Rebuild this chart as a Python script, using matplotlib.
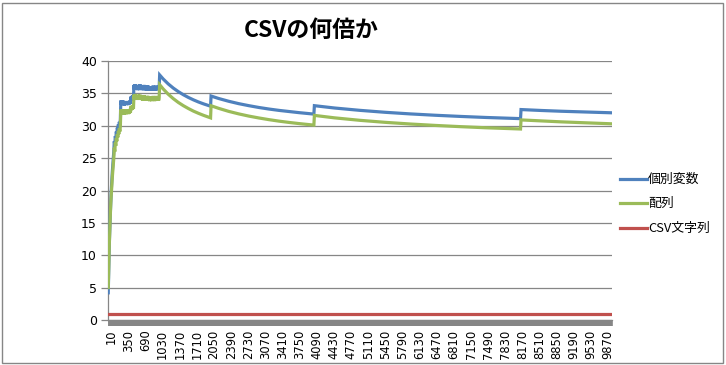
import numpy as np
import matplotlib
matplotlib.use("Agg")
import matplotlib.pyplot as plt
from matplotlib.lines import Line2D
from matplotlib.patches import Rectangle
import matplotlib.transforms as mtransforms

plt.rcParams['font.family'] = ['DejaVu Sans']
JP = ['Noto Sans CJK JP', 'DejaVu Sans']

# category axis: element counts 10, 20, ..., 10000
categories = list(range(10, 10001, 10))
tick_step = 34

sample_n = [10, 20, 30, 40, 50, 60, 70, 80, 90, 100, 110, 120, 130, 140, 150, 160, 170, 180, 190, 200,
            210, 220, 230, 240, 250,
            260, 270, 280, 290, 300, 310, 320, 330, 340, 350, 360, 370, 380, 390, 400, 410, 420, 430,
            440, 450, 460, 470, 480, 490, 500, 510,
            520, 530, 540, 550, 560, 570, 580, 590, 600, 610, 620, 630, 640, 650, 660, 670, 680, 690,
            700, 710, 720, 730, 740, 750, 760, 770, 780, 790, 800, 810, 820, 830, 840, 850, 860, 870,
            880, 890, 900, 910, 920, 930, 940, 950, 960, 970, 980, 990, 1000, 1010, 1020,
            1030, 1100, 1200, 1300, 1400, 1500, 1600, 1700, 1800, 1900, 2000, 2040,
            2050, 2200, 2400, 2600, 2800, 3000, 3200, 3400, 3600, 3800, 4000, 4090,
            4100, 4500, 5000, 5500, 6000, 6500, 7000, 7500, 8000, 8190,
            8200, 8600, 9000, 9400, 9800, 10000]

kobetsu = [4.2, 8.0, 11.5, 14.0, 16.3, 18.3, 20.0, 21.5, 22.8, 24.0, 25.0, 26.0, 27.6, 27.0, 28.4, 27.9, 29.1, 28.6, 29.7, 29.2,
           30.2, 29.7, 30.6, 30.1, 30.9,
           33.9, 33.3, 33.8, 33.2, 33.9, 33.3, 33.7, 33.1, 33.8, 33.3, 33.7, 33.2, 33.8, 33.3, 33.7, 33.2, 33.8,
           33.3, 33.9, 33.4, 34.5, 33.9, 34.6, 34.0, 34.7, 34.1,
           36.3, 35.6, 36.4, 35.7, 36.3, 35.6, 36.2, 35.5, 36.3, 35.6, 36.2, 35.5, 36.4, 35.7, 36.2, 35.6, 36.1, 35.5,
           36.2, 35.5, 36.3, 35.6, 36.1, 35.5, 36.0, 35.4, 36.2, 35.6, 36.2, 35.5, 36.0, 35.4, 36.1, 35.5, 36.0, 35.4,
           36.1, 35.5, 36.2, 35.6, 36.0, 35.4, 36.1, 35.5, 36.2, 35.6, 36.0, 35.5, 36.1, 35.5, 35.9,
           37.84, 37.22, 36.46, 35.82, 35.27, 34.79, 34.37, 34.0, 33.67, 33.38, 33.12, 33.02,
           34.59, 34.21, 33.78, 33.41, 33.10, 32.82, 32.58, 32.37, 32.19, 32.02, 31.87, 31.80,
           33.10, 32.74, 32.38, 32.08, 31.83, 31.62, 31.44, 31.28, 31.15, 31.10,
           32.50, 32.36, 32.24, 32.14, 32.05, 32.00]

hairetsu = [5.0, 8.5, 11.5, 14.0, 16.0, 18.0, 19.5, 20.7, 22.0, 23.0, 24.0, 25.0, 26.6, 26.0, 27.4, 26.9, 28.1, 27.6, 28.7, 28.2,
            29.2, 28.7, 29.6, 29.1, 29.9,
            32.5, 31.8, 32.4, 31.7, 32.5, 31.8, 32.4, 31.7, 32.5, 31.8, 32.4, 31.8, 32.5, 31.9, 32.4, 31.8, 32.5,
            31.9, 32.6, 32.0, 33.0, 32.4, 33.1, 32.5, 33.2, 32.6,
            34.8, 34.1, 34.9, 34.2, 34.7, 34.0, 34.7, 34.0, 34.8, 34.1, 34.6, 34.0, 34.8, 34.1, 34.6, 34.0, 34.6, 33.9,
            34.7, 34.0, 34.7, 34.0, 34.5, 33.9, 34.5, 33.9, 34.6, 34.0, 34.6, 33.9, 34.4, 33.8, 34.5, 33.9, 34.4, 33.8,
            34.5, 33.9, 34.6, 34.0, 34.4, 33.8, 34.5, 33.9, 34.6, 34.0, 34.4, 33.9, 34.5, 33.9, 34.3,
            36.34, 35.68, 34.87, 34.19, 33.60, 33.10, 32.66, 32.26, 31.92, 31.61, 31.32, 31.22,
            33.09, 32.69, 32.22, 31.83, 31.49, 31.20, 30.94, 30.71, 30.51, 30.33, 30.17, 30.10,
            31.60, 31.22, 30.84, 30.53, 30.27, 30.05, 29.86, 29.69, 29.55, 29.50,
            30.90, 30.75, 30.60, 30.48, 30.36, 30.30]

csv_n = [10, 10000]
csv_str = [1.0, 1.0]

series_names = ['個別変数', '配列', 'CSV文字列']
colors = ['#4F81BD', '#9BBB59', '#C0504D']

W, H = 726, 365
fig = plt.figure(figsize=(W / 100, H / 100), dpi=100)
fig.patch.set_facecolor('white')

L, R, T, B = 108, 612, 61, 320
ax = fig.add_axes([L / W, 1 - B / H, (R - L) / W, (B - T) / H])

pos = {c: i for i, c in enumerate(categories)}
x1 = [pos[n] for n in sample_n]
xc = [pos[n] for n in csv_n]

lw = 2.3
ax.plot(x1, kobetsu, color=colors[0], lw=lw, solid_joinstyle='miter', zorder=3)
ax.plot(x1, hairetsu, color=colors[1], lw=lw, solid_joinstyle='miter', zorder=4)
ax.plot(xc, csv_str, color=colors[2], lw=lw, zorder=3)

ax.set_xlim(-0.5, len(categories) - 0.5)
ax.set_ylim(0, 40)
ax.set_yticks(np.arange(0, 41, 5))
ax.yaxis.grid(True, color='#868686', lw=0.9)
ax.set_axisbelow(True)

for s in ['top', 'right']:
    ax.spines[s].set_visible(False)
ax.spines['left'].set_color('#868686')
ax.spines['bottom'].set_color('#868686')
ax.spines['left'].set_linewidth(0.9)
ax.spines['bottom'].set_linewidth(0.9)

ax.tick_params(axis='y', length=5, width=0.9, color='#868686', labelsize=9, pad=3)
label_idx = list(range(0, len(categories), tick_step))
ax.set_xticks(label_idx)
ax.set_xticklabels([str(categories[i]) for i in label_idx], rotation=90, fontsize=8.3)
ax.set_xticks(np.arange(len(categories)), minor=True)
ax.tick_params(axis='x', which='major', length=0, pad=7)
ax.tick_params(axis='x', which='minor', length=4.5, width=1.2, color='#868686')
offset = mtransforms.ScaledTranslation(3 / 100, 0, fig.dpi_scale_trans)
for lab in ax.get_xticklabels():
    lab.set_transform(lab.get_transform() + offset)

# title
fig.text(311 / W, 1 - 30 / H, 'CSVの何倍か', ha='center', va='center', fontsize=16.5,
         fontweight='bold', family=JP)

# legend
ly = [179, 203, 228]
for name, c, y in zip(series_names, colors, ly):
    fig.add_artist(Line2D([620 / W, 647 / W], [1 - y / H, 1 - y / H], color=c, lw=2.3,
                          transform=fig.transFigure))
    fig.text(648 / W, 1 - y / H, name, ha='left', va='center', fontsize=9.3, family=JP)

# chart border
fig.add_artist(Rectangle((2 / W, 2 / H), 721 / W, 360 / H, transform=fig.transFigure,
                         fill=False, edgecolor='#868686', lw=1.0))

fig.savefig('out.png', dpi=100, facecolor='white')
